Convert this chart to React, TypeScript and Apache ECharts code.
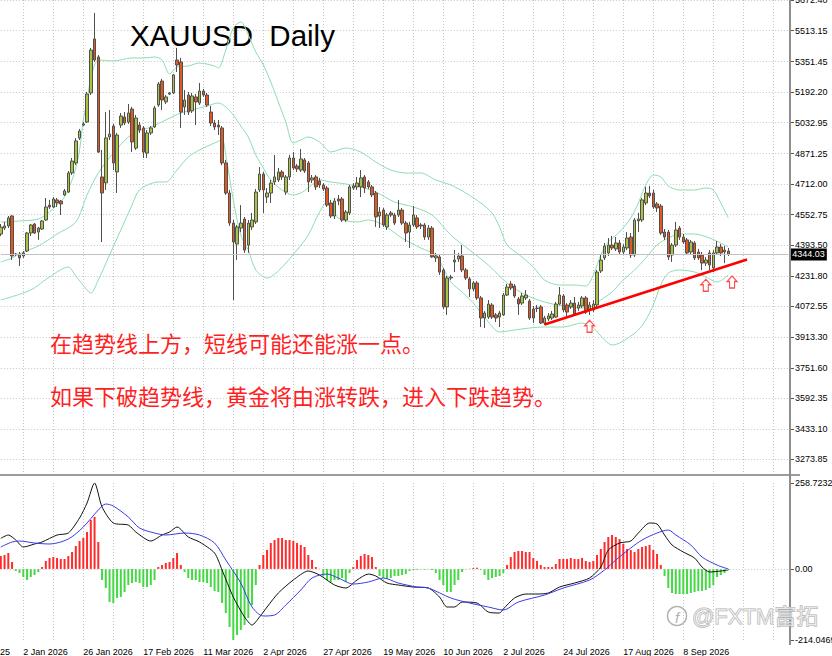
import React, { useEffect, useRef } from "react";
import * as echarts from "echarts";

// ---------- data ----------
const openP = [
  4451,4482,4493,4545,4344,4346,4336,4362,4456,4503,
  4461,4477,4524,4602,4592,4629,4623,4655,4670,4770,
  4822,4952,5020,5036,5188,5470,5376,4749,4718,4958,
  5015,4775,5020,5062,5036,5104,4900,5020,5005,4874,
  4979,5010,5125,5250,5141,5182,5188,5360,5350,5115,
  5177,5094,5167,5135,5198,5177,5088,5031,5020,5005,
  4822,4665,4508,4399,4482,4529,4393,4488,4514,4681,
  4764,4644,4665,4723,4733,4775,4670,4749,4848,4806,
  4785,4838,4822,4733,4749,4728,4707,4691,4613,4545,
  4634,4634,4524,4561,4691,4697,4697,4749,4723,4697,
  4665,4545,4576,4488,4561,4550,4550,4576,4508,4461,
  4498,4535,4498,4498,4435,4482,4326,4331,4263,4070,
  4221,4305,4320,4336,4263,4216,4164,4195,4117,4012,
  4017,4080,4028,4017,4028,4132,4190,4179,4111,4090,
  4117,4101,4059,4064,4070,3986,4007,4012,4017,4085,
  4127,4080,4070,4090,4064,4075,4117,4054,4054,4080,
  4258,4326,4352,4393,4373,4404,4357,4378,4435,4341,
  4519,4524,4613,4665,4665,4608,4597,4461,4461,4341,
  4393,4482,4435,4420,4357,4404,4357,4341,4299,4352,
  4273,4352,4383,4367,4362
];
const closeP = [
  4487,4493,4535,4336,4346,4326,4352,4456,4498,4456,
  4482,4519,4592,4592,4634,4613,4608,4676,4770,4832,
  4937,4989,5026,5182,5412,5360,4879,4665,4953,4973,
  4822,4968,5067,5031,5083,4932,5057,4994,4879,4979,
  5005,5109,5235,5151,5167,5188,5282,5334,5088,5151,
  5088,5172,5141,5198,5177,5125,5031,5010,5010,4822,
  4665,4508,4409,4488,4508,4367,4508,4524,4670,4764,
  4681,4665,4717,4749,4775,4749,4749,4848,4796,4791,
  4843,4780,4723,4744,4697,4707,4686,4602,4545,4623,
  4623,4524,4566,4697,4702,4717,4744,4691,4697,4655,
  4540,4566,4498,4550,4550,4508,4576,4508,4456,4498,
  4550,4488,4493,4435,4482,4331,4336,4252,4070,4221,
  4226,4315,4336,4263,4221,4164,4195,4117,4012,4038,
  4085,4017,4012,4038,4132,4174,4169,4127,4085,4127,
  4132,4012,4012,4062,3986,4012,4023,4033,4085,4132,
  4054,4043,4090,4033,4080,4117,4043,4080,4085,4252,
  4315,4388,4393,4378,4404,4357,4383,4430,4341,4524,
  4529,4629,4665,4650,4592,4587,4456,4435,4331,4393,
  4472,4435,4409,4352,4409,4326,4326,4299,4315,4289,
  4352,4383,4352,4357,4344.03
];
const highP = [
  4503,4514,4545,4550,4352,4357,4362,4461,4503,4508,
  4488,4524,4639,4629,4644,4639,4629,4686,4780,4848,
  4952,5000,5036,5193,5423,5606,5386,4890,5088,5099,
  5026,4979,5083,5088,5130,5115,5073,5036,5015,4994,
  5015,5120,5245,5261,5177,5193,5287,5423,5371,5203,
  5193,5188,5182,5240,5209,5188,5120,5047,5047,5015,
  4838,4681,4524,4498,4602,4540,4524,4561,4686,4801,
  4775,4691,4733,4864,4796,4785,4759,4864,4879,4817,
  4895,4848,4832,4759,4759,4744,4717,4702,4629,4639,
  4655,4644,4576,4707,4717,4749,4785,4759,4733,4707,
  4676,4592,4587,4561,4571,4561,4629,4587,4519,4514,
  4597,4550,4508,4508,4498,4493,4352,4341,4273,4232,
  4237,4367,4352,4393,4273,4226,4205,4205,4127,4049,
  4106,4090,4038,4049,4143,4190,4205,4190,4122,4143,
  4158,4111,4075,4080,4080,4023,4038,4049,4096,4174,
  4137,4090,4106,4122,4096,4127,4127,4096,4106,4263,
  4341,4404,4430,4441,4435,4420,4398,4461,4456,4534,
  4561,4639,4697,4702,4681,4618,4608,4477,4472,4404,
  4514,4493,4451,4430,4420,4414,4373,4357,4331,4367,
  4367,4414,4399,4388,4378
];
const lowP = [
  4440,4472,4482,4315,4336,4284,4326,4357,4440,4451,
  4420,4472,4519,4582,4587,4592,4550,4650,4665,4759,
  4811,4942,5015,5031,5177,5350,4874,4409,4681,4942,
  4785,4665,5005,5020,5026,4879,4890,4979,4848,4848,
  4968,5005,5115,5099,5130,5177,5182,5297,5005,5073,
  5073,5083,5020,5125,5167,5115,5015,4994,4968,4811,
  4655,4493,4106,4315,4461,4352,4352,4472,4503,4670,
  4561,4613,4613,4707,4723,4733,4655,4733,4785,4775,
  4775,4770,4670,4717,4681,4691,4676,4592,4535,4529,
  4602,4514,4514,4550,4681,4681,4644,4665,4686,4644,
  4488,4482,4488,4472,4540,4498,4540,4498,4409,4378,
  4488,4477,4477,4420,4420,4326,4305,4237,4059,4028,
  4211,4252,4305,4252,4211,4122,4153,4106,3965,3960,
  4007,4007,3991,3965,4022,4127,4158,4117,4028,4080,
  4106,4002,3986,4043,3981,3976,3996,4002,4012,4080,
  4043,4017,4059,4023,4049,4064,4033,4028,4043,4070,
  4247,4315,4336,4367,4362,4346,4346,4367,4326,4331,
  4461,4514,4602,4639,4582,4566,4446,4420,4315,4305,
  4383,4420,4399,4341,4346,4315,4315,4263,4284,4263,
  4252,4341,4336,4299,4336
];

// Bollinger bands, read at sampled bars: [bar index, price]
const upperBand = [
  [0,4513.6],[5,4518.8],[10,4529.3],[13,4565.9],[15,4602.4],[17,4644.2],[19,4733.1],[20,4795.8],
  [21,4889.8],[22,5046.5],[23,5151.0],[24,5266.0],[25,5333.9],[26,5360.0],[30,5354.8],[35,5370.5],
  [38,5370.5],[41,5375.7],[43,5360.0],[45,5286.9],[47,5323.5],[50,5328.7],[53,5344.3],[57,5328.7],
  [58,5318.2],[60,5412.3],[62,5527.2],[64,5558.6],[66,5490.6],[68,5401.8],[70,5333.9],[72,5245.1],
  [74,5140.6],[76,5036.1],[78,4926.4],[80,4942.0],[82,4957.7],[85,4931.6],[88,4879.3],[92,4900.2],
  [96,4879.3],[100,4827.1],[104,4785.3],[108,4769.6],[112,4769.6],[116,4733.1],[120,4706.9],[124,4665.1],
  [128,4612.9],[131,4560.6],[133,4487.5],[135,4393.4],[138,4346.4],[142,4278.5],[145,4210.6],[149,4184.5],
  [153,4184.5],[156,4179.2],[158,4236.7],[160,4341.2],[162,4409.1],[165,4461.4],[168,4534.5],[170,4612.9],
  [172,4706.9],[174,4759.2],[176,4748.7],[178,4701.7],[181,4680.8],[185,4680.8],[188,4691.3],[190,4680.8],
  [192,4612.9],[194,4534.5]
];
const middleBand = [
  [0,4304.6],[3,4325.5],[6,4356.9],[10,4388.2],[15,4450.9],[20,4513.6],[23,4654.7],[26,4769.6],
  [30,4874.1],[35,4973.4],[40,5010.0],[44,5046.5],[48,5083.1],[51,5098.8],[55,5119.7],[58,5135.4],
  [60,5114.5],[62,5072.7],[64,5015.2],[66,4957.7],[68,4863.7],[70,4795.8],[72,4733.1],[75,4680.8],
  [78,4654.7],[80,4665.1],[82,4691.3],[85,4733.1],[88,4722.6],[92,4712.2],[96,4696.5],[100,4670.4],
  [105,4618.1],[110,4592.0],[115,4550.2],[120,4445.7],[125,4367.3],[130,4289.0],[135,4194.9],[140,4132.2],
  [145,4095.6],[150,4074.7],[155,4064.3],[158,4074.7],[160,4106.1],[163,4147.9],[166,4210.6],[169,4262.8],
  [172,4325.5],[175,4393.4],[178,4430.0],[181,4450.9],[185,4450.9],[189,4430.0],[192,4403.9],[194,4383.0]
];
const lowerBand = [
  [0,4106.1],[8,4158.3],[13,4226.3],[18,4278.5],[20,4231.5],[23,4158.3],[24,4142.7],[26,4210.6],
  [29,4341.2],[32,4471.8],[35,4602.4],[37,4680.8],[42,4722.6],[44,4722.6],[47,4785.3],[50,4853.2],
  [53,4889.8],[57,4926.4],[59,4942.0],[60,4863.7],[62,4628.6],[64,4445.7],[66,4367.3],[68,4262.8],
  [71,4221.0],[74,4257.6],[79,4367.3],[82,4445.7],[85,4565.9],[87,4618.1],[90,4534.5],[95,4513.6],
  [98,4524.1],[102,4497.9],[107,4430.0],[112,4377.8],[116,4341.2],[118,4273.3],[120,4200.1],[123,4147.9],
  [126,4090.4],[130,3991.1],[133,3938.9],[137,3949.3],[141,3959.8],[145,3965.0],[150,3965.0],[155,3985.9],
  [158,3959.8],[161,3897.1],[163,3871.0],[165,3881.4],[168,3918.0],[170,3949.3],[172,4001.6],[174,4080.0],
  [176,4184.5],[178,4247.2],[181,4262.8],[185,4252.4],[188,4226.3],[191,4200.1],[194,4236.7]
];

// MACD panel
const macdHist = [
  38.8,41.9,47.9,20.8,-6.3,-12.3,-24.4,-33.4,-24.4,-18.4,
  -9.3,5.7,23.8,32.8,35.8,32.8,29.8,29.8,38.8,50.9,
  69.0,84.0,93.0,111.1,147.2,156.3,81.0,-33.4,-57.5,-99.7,
  -102.7,-87.6,-84.6,-69.6,-48.5,-42.5,-39.4,-42.5,-54.5,-54.5,
  -48.5,-33.4,5.7,11.7,17.8,20.8,32.8,47.9,11.7,-9.3,
  -27.4,-33.4,-33.4,-39.4,-39.4,-42.5,-54.5,-66.5,-69.6,-102.7,
  -132.8,-174.9,-214.04,-199.0,-183.9,-168.9,-147.8,-108.7,-48.5,11.7,
  41.9,56.9,78.0,87.0,93.0,93.0,87.0,87.0,84.0,78.0,
  72.0,66.0,41.9,26.8,5.7,0.5,-21.4,-33.4,-39.4,-33.4,
  -33.4,-27.4,-39.4,-12.3,5.7,26.8,38.8,44.9,41.9,35.8,
  5.7,-21.4,-27.4,-30.4,-27.4,-21.4,-21.4,-18.4,-15.4,-6.3,
  -3.3,-2.4,-1.2,-3.3,-1.2,-3.3,-12.3,-33.4,-48.5,-69.6,
  -69.6,-48.5,-33.4,-9.3,-1.2,0.6,2.7,3.6,-3.3,-18.4,
  -33.4,-27.4,-24.4,-21.4,-12.3,11.7,35.8,50.9,53.9,53.9,
  50.9,50.9,32.8,23.8,11.7,5.7,5.7,5.7,14.8,29.8,
  29.8,29.8,32.8,29.8,29.8,32.8,23.8,20.8,23.8,41.9,
  59.9,81.0,96.1,102.1,96.1,90.0,75.0,59.9,56.9,50.9,
  59.9,66.0,69.0,72.0,56.9,44.9,11.7,-21.4,-57.5,-72.6,
  -75.6,-75.6,-75.6,-75.6,-72.6,-69.6,-66.5,-66.5,-63.5,-57.5,
  -48.5,-24.4,-18.4,-12.3,-3.3
];
const macdLine = [
  [0,92.1],[2,102.1],[4,87.0],[6,66.0],[9,75.0],[11,81.0],[15,102.1],[18,108.1],[21,153.3],[23,198.5],
  [25,258.72],[27,186.5],[30,138.2],[34,132.2],[36,111.1],[40,84.0],[43,102.1],[45,111.1],[47,126.2],[50,96.1],
  [53,81.0],[57,47.9],[59,-3.3],[62,-84.6],[65,-144.8],[67,-168.9],[69,-144.8],[71,-114.7],[74,-72.6],[78,-33.4],
  [82,-6.3],[85,-18.4],[89,-48.5],[92,-57.5],[95,-33.4],[98,-15.4],[100,-21.4],[103,-42.5],[106,-48.5],[110,-54.5],
  [114,-57.5],[117,-84.6],[119,-114.7],[121,-114.7],[123,-99.7],[127,-102.7],[130,-129.8],[133,-132.8],[134,-120.7],[137,-87.6],
  [140,-75.6],[143,-75.6],[146,-72.6],[149,-54.5],[153,-42.5],[157,-27.4],[160,5.7],[162,56.9],[165,78.0],[168,84.0],
  [170,108.1],[173,138.2],[175,135.2],[177,102.1],[179,72.0],[182,50.9],[185,32.8],[187,5.7],[189,-9.3],[192,-6.3],[194,-3.3]
];
const signalLine = [
  [0,66.0],[3,81.0],[5,84.0],[9,78.0],[13,75.0],[18,90.0],[22,126.2],[26,177.4],[28,195.4],[30,189.4],
  [34,156.3],[37,123.2],[41,108.1],[44,102.1],[49,108.1],[53,102.1],[57,78.0],[60,26.8],[64,-42.5],[67,-114.7],
  [70,-141.8],[73,-138.8],[76,-108.7],[80,-63.5],[83,-27.4],[87,-15.4],[90,-27.4],[94,-45.5],[98,-39.4],[102,-27.4],
  [106,-42.5],[111,-54.5],[114,-57.5],[120,-87.6],[125,-102.7],[130,-114.7],[134,-123.7],[138,-99.7],[145,-78.6],[150,-57.5],
  [157,-33.4],[161,-3.3],[164,26.8],[168,63.0],[171,87.0],[175,108.1],[178,117.1],[180,102.1],[184,72.0],[187,35.8],
  [191,11.7],[194,-0.3]
];

const priceTicks = [5672.40,5513.15,5351.45,5192.20,5032.95,4871.25,4712.00,4552.75,4393.50,4231.80,4072.55,3913.30,3751.60,3592.35,3433.10,3273.85];
const macdTicks = [258.7232, 0, -214.0469];
const dateLabels = ["2 Jan 2026","26 Jan 2026","17 Feb 2026","11 Mar 2026","2 Apr 2026","27 Apr 2026","19 May 2026","10 Jun 2026","2 Jul 2026","24 Jul 2026","17 Aug 2026","8 Sep 2026"];
const cutDateLabel = "9 Dec 2025";
const firstLabelIndex = 6;
const labelStep = 16;
const gridStep = 8;
const slotCount = 211;
const lastPrice = 4344.03;
const trendLine = [[145, 3978], [199, 4318]];
const arrowMarks = [[157, 3969], [188, 4183], [195, 4200]];
const titleText = "XAUUSD  Daily";
const notes = ["在趋势线上方，短线可能还能涨一点。", "如果下破趋势线，黄金将由涨转跌，进入下跌趋势。"];
const watermark = "@FXTM富拓";

// ---------- chart ----------
const FONT = '"Liberation Sans", Arial, sans-serif';
const CJK = '"Noto Sans CJK SC", sans-serif';

export default function App() {
  const ref = useRef<HTMLDivElement>(null);

  useEffect(() => {
    if (!ref.current) return;
    const chart = echarts.init(ref.current, null, { renderer: "svg" });

    const categories = Array.from({ length: slotCount }, (_, i) => String(i));
    const candles = openP.map((o, i) => [o, closeP[i], lowP[i], highP[i]]);
    const hist = macdHist.map((v) => ({
      value: v,
      itemStyle: { color: v >= 0 ? "#ff2b2b" : "#45d845" },
    }));
    const labelFor = (v: string) => {
      const i = Number(v);
      if (i >= firstLabelIndex && (i - firstLabelIndex) % labelStep === 0) {
        return dateLabels[(i - firstLabelIndex) / labelStep] || "";
      }
      return "";
    };
    const gridLineStyle = { color: "#c6c6c6", type: [1, 2] as any, width: 1 };
    const vSplit = {
      show: true,
      interval: (i: number) => i >= firstLabelIndex && (i - firstLabelIndex) % gridStep === 0,
      lineStyle: gridLineStyle,
    };
    const bandStyle = { color: "#8fdcb0", width: 1 };

    const option: any = {
      animation: false,
      backgroundColor: "#ffffff",
      textStyle: { fontFamily: FONT },
      grid: [
        { left: 0.8, top: 0, width: 787.5, height: 474, containLabel: false, outerBoundsMode: "none" },
        { left: 0.8, top: 483, width: 787.5, height: 157, containLabel: false, outerBoundsMode: "none" },
      ],
      xAxis: [
        {
          type: "category", gridIndex: 0, data: categories, boundaryGap: false,
          axisLine: { show: false }, axisTick: { show: false }, axisLabel: { show: false },
          splitLine: vSplit,
        },
        {
          type: "category", gridIndex: 1, data: categories, boundaryGap: false,
          axisLine: { show: false }, axisTick: { show: false },
          axisLabel: {
            show: true,
            interval: (i: number) => i >= firstLabelIndex && (i - firstLabelIndex) % labelStep === 0,
            formatter: (v: string) => labelFor(v),
            align: "left", color: "#000", fontSize: 9, margin: 7, fontFamily: FONT,
          },
          splitLine: vSplit,
        },
      ],
      yAxis: [
        {
          type: "value", gridIndex: 0, position: "right", offset: 1.7,
          min: 3197.0, max: 5673.5, scale: true,
          axisLine: { show: false },
          axisTick: { show: true, length: 4, lineStyle: { color: "#555" }, customValues: priceTicks },
          axisLabel: {
            customValues: priceTicks, formatter: (v: number) => v.toFixed(2),
            color: "#000", fontSize: 9, margin: 5, fontFamily: FONT,
          },
          splitLine: { show: true, lineStyle: gridLineStyle },
        },
        {
          type: "value", gridIndex: 1, position: "right", offset: 1.7,
          min: -214.0469, max: 258.7232,
          axisLine: { show: false },
          axisTick: { show: true, length: 4, lineStyle: { color: "#555" }, customValues: macdTicks },
          axisLabel: {
            customValues: macdTicks,
            formatter: (v: number) => (v === 0 ? "0.00" : v.toFixed(4)),
            color: "#000", fontSize: 9, margin: 5, fontFamily: FONT,
          },
          splitLine: { show: false },
        },
      ],
      series: [
        {
          type: "candlestick", xAxisIndex: 0, yAxisIndex: 0, data: candles, barWidth: 3,
          itemStyle: { color: "#a9c23f", color0: "#e4581f", borderColor: "#505050", borderColor0: "#505050", borderWidth: 1 },
          markLine: {
            silent: true, symbol: "none", animation: false,
            data: [{ yAxis: lastPrice }],
            lineStyle: { color: "#c2c2c2", type: "solid", width: 1 },
            label: {
              show: true, position: "end", distance: 2, formatter: lastPrice.toFixed(2),
              backgroundColor: "#000", color: "#fff", fontSize: 9, padding: [2, 2, 1, 2], fontFamily: FONT,
            },
          },
          z: 3,
        },
        { type: "line", xAxisIndex: 0, yAxisIndex: 0, data: upperBand, showSymbol: false, smooth: 0.3, lineStyle: bandStyle, z: 2 },
        { type: "line", xAxisIndex: 0, yAxisIndex: 0, data: middleBand, showSymbol: false, smooth: 0.3, lineStyle: bandStyle, z: 2 },
        { type: "line", xAxisIndex: 0, yAxisIndex: 0, data: lowerBand, showSymbol: false, smooth: 0.3, lineStyle: bandStyle, z: 2 },
        {
          type: "line", xAxisIndex: 0, yAxisIndex: 0, data: trendLine, showSymbol: false,
          lineStyle: { color: "#ff0000", width: 2.5 }, z: 5,
        },
        {
          type: "scatter", xAxisIndex: 0, yAxisIndex: 0, data: arrowMarks,
          symbol: "path://M5 0L10 5.5L7.5 5.5L7.5 12L2.5 12L2.5 5.5L0 5.5Z",
          symbolSize: [10, 12], symbolKeepAspect: false,
          itemStyle: { color: "#ffffff", borderColor: "#ff2020", borderWidth: 1.2 }, z: 6,
        },
        {
          type: "bar", xAxisIndex: 1, yAxisIndex: 1, data: hist, barWidth: 2,
          markLine: {
            silent: true, symbol: "none", animation: false, data: [{ yAxis: 0 }],
            lineStyle: { color: "#c6c6c6", type: [1, 2], width: 1 }, label: { show: false },
          },
          z: 2,
        },
        { type: "line", xAxisIndex: 1, yAxisIndex: 1, data: macdLine, showSymbol: false, smooth: 0.25, lineStyle: { color: "#111", width: 1 }, z: 4 },
        { type: "line", xAxisIndex: 1, yAxisIndex: 1, data: signalLine, showSymbol: false, smooth: 0.3, lineStyle: { color: "#3a3ae6", width: 1 }, z: 4 },
      ],
      graphic: [
        { type: "rect", silent: true, shape: { x: 0, y: 474, width: 800, height: 2 }, style: { fill: "#9b9b9b" }, z: 10 },
        { type: "rect", silent: true, shape: { x: 789, y: 0, width: 2, height: 645 }, style: { fill: "#8e8e8e" }, z: 10 },
        {
          type: "text", silent: true, x: 130, y: 35,
          style: { text: titleText, fontSize: 29.5, fontFamily: FONT, fill: "#000", align: "left", verticalAlign: "middle" }, z: 1,
        },
        {
          type: "text", silent: true, x: 50, y: 342,
          style: { text: notes[0], fontSize: 22, fontFamily: CJK, fill: "#ff1f1f", align: "left", verticalAlign: "middle" }, z: 10,
        },
        {
          type: "text", silent: true, x: 50, y: 395,
          style: { text: notes[1], fontSize: 22, fontFamily: CJK, fill: "#ff1f1f", align: "left", verticalAlign: "middle" }, z: 10,
        },
        {
          type: "text", silent: true, x: -36, y: 652,
          style: { text: cutDateLabel, fontSize: 9, fontFamily: FONT, fill: "#000", align: "left", verticalAlign: "middle" },
        },
        {
          type: "circle", silent: true, shape: { cx: 677, cy: 616, r: 9.5 },
          style: { fill: "none", stroke: "#b4b4b4", lineWidth: 1.5 }, z: 10,
        },
        {
          type: "text", silent: true, x: 677, y: 617,
          style: { text: "f", fontSize: 15, fontFamily: FONT, fontStyle: "italic", fill: "#b4b4b4", align: "center", verticalAlign: "middle" }, z: 10,
        },
        {
          type: "text", silent: true, x: 692, y: 616,
          style: {
            text: watermark, fontSize: 22, fontFamily: '"Liberation Sans", "Noto Sans CJK SC", sans-serif',
            fill: "rgba(255,255,255,0.5)", stroke: "#b0b0b0", lineWidth: 1, align: "left", verticalAlign: "middle",
          },
          z: 10,
        },
      ],
    };

    chart.setOption(option);
    return () => chart.dispose();
  }, []);

  return (
    <div
      ref={ref}
      style={{ position: "fixed", left: 0, top: 0, width: 832, height: 656, background: "#fff" }}
    />
  );
}
